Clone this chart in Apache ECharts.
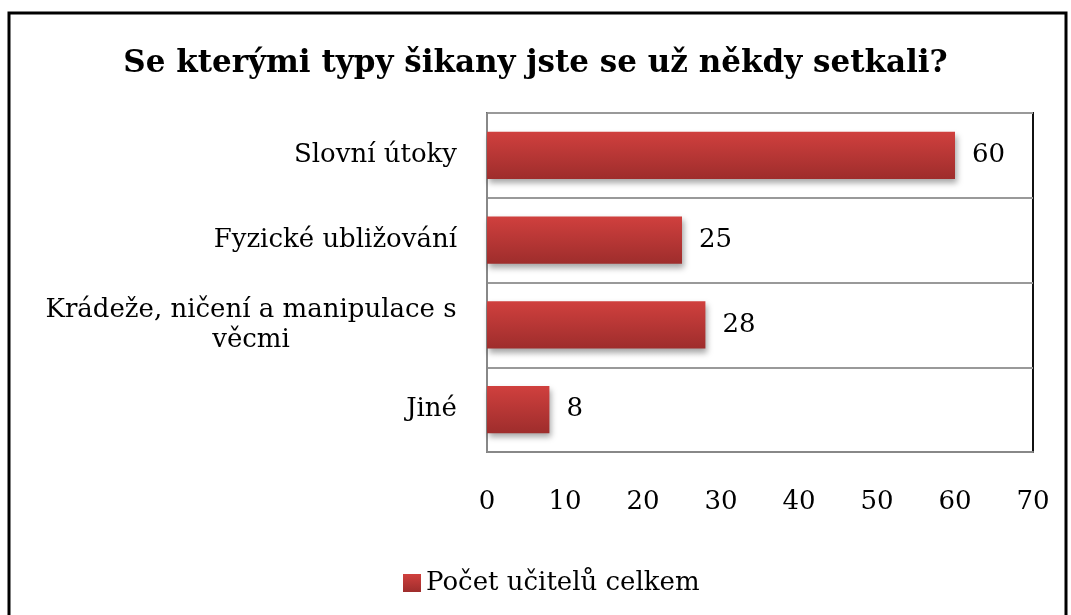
<!DOCTYPE html>
<html>
<head>
<meta charset="utf-8">
<script src="https://cdn.jsdelivr.net/npm/echarts@6/dist/echarts.min.js"></script>
<style>
  html, body { margin: 0; padding: 0; background: #fff; }
  #main { width: 1071px; height: 615px; }
</style>
</head>
<body>
<div id="main"></div>
<script>
var titleText = 'Se kterými typy šikany jste se už někdy setkali?';
var categories = ['Slovní útoky', 'Fyzické ubližování', 'Krádeže, ničení a manipulace s\nvěcmi', 'Jiné'];
var seriesName = 'Počet učitelů celkem';
var values = [60, 25, 28, 8];
var xTicks = [0, 70, 10]; // min, max, interval

var font = 'DejaVu Serif';
var labelSize = 26;

// width of the longest wrapped line, so the second line can be centred under it
function textWidth(s, size) {
	var ctx = document.createElement('canvas').getContext('2d');
	ctx.font = size + 'px "' + font + '"';
	return Math.ceil(ctx.measureText(s).width);
}

var myChart = echarts.init(document.getElementById('main'));

var barColor = new echarts.graphic.LinearGradient(0, 0, 0, 1, [
	{ offset: 0, color: '#d0403e' },
	{ offset: 1, color: '#9e2d2c' }
]);

var option = {
	backgroundColor: '#fff',
	animation: false,
	title: {
		text: titleText,
		left: 'center',
		top: 43,
		textStyle: { fontFamily: font, fontWeight: 'bold', fontSize: 31, color: '#000' }
	},
	legend: {
		data: [seriesName],
		left: 398,
		top: 565,
		icon: 'rect',
		itemWidth: 18,
		itemHeight: 18,
		itemGap: 6,
		textStyle: { fontFamily: font, fontSize: 26, color: '#000' }
	},
	grid: {
		left: 487,
		right: 38,
		top: 113,
		bottom: 163,
		show: true,
		borderColor: '#111',
		borderWidth: 2,
		containLabel: false
	},
	xAxis: {
		type: 'value',
		min: xTicks[0],
		max: xTicks[1],
		interval: xTicks[2],
		axisLine: { show: true, lineStyle: { color: '#888', width: 2 } },
		axisTick: { show: false },
		splitLine: { show: false },
		axisLabel: { margin: 37, fontFamily: font, fontSize: labelSize, color: '#000' }
	},
	yAxis: {
		type: 'category',
		inverse: true,
		data: categories,
		axisLine: { show: true, lineStyle: { color: '#888', width: 2 } },
		axisTick: { show: false },
		splitLine: { show: true, lineStyle: { color: '#999', width: 2 } },
		axisLabel: {
			margin: 30,
			fontFamily: font,
			fontSize: labelSize,
			color: '#000',
			lineHeight: 30,
			formatter: function (v) {
				if (v.indexOf('\n') >= 0) {
					var lines = v.split('\n');
					var w = Math.max.apply(null, lines.map(function (s) { return textWidth(s, labelSize); }));
					return lines.map(function (s) { return '{c|' + s + '}'; }).join('\n')
						.replace(/\{c\|/g, '{c' + w + '|');
				}
				return v;
			},
			rich: {}
		}
	},
	series: [{
		name: seriesName,
		type: 'bar',
		data: values,
		barWidth: '56%',
		itemStyle: {
			color: barColor,
			shadowColor: 'rgba(0,0,0,0.35)',
			shadowBlur: 6,
			shadowOffsetX: 2,
			shadowOffsetY: 4
		},
		label: {
			show: true,
			position: 'right',
			distance: 17,
			fontFamily: font,
			fontSize: labelSize,
			color: '#000'
		}
	}],
	graphic: [{
		type: 'rect',
		shape: { x: 9, y: 13, width: 1057, height: 640 },
		style: { fill: 'none', stroke: '#000', lineWidth: 3 },
		z: 100
	}]
};

// rich style for the centred two-line label
categories.forEach(function (v) {
	if (v.indexOf('\n') >= 0) {
		var w = Math.max.apply(null, v.split('\n').map(function (s) { return textWidth(s, labelSize); }));
		option.yAxis.axisLabel.rich['c' + w] = {
			width: w, align: 'center', fontFamily: font, fontSize: labelSize, color: '#000', lineHeight: 30
		};
	}
});

myChart.setOption(option);
</script>
</body>
</html>
